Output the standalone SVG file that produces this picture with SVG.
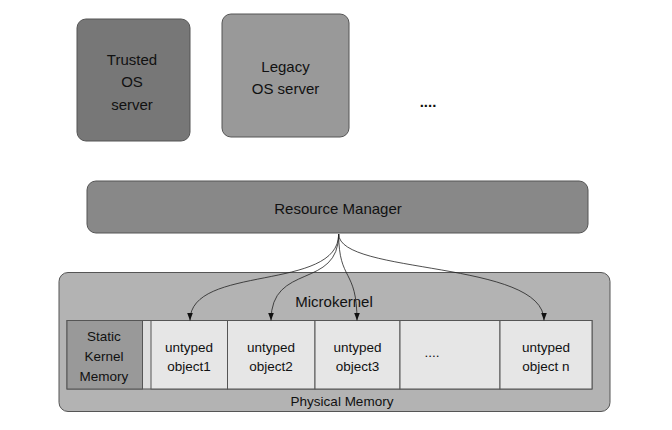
<svg xmlns="http://www.w3.org/2000/svg" width="672" height="430" viewBox="0 0 672 430">
  <defs>
    <marker id="arrow" viewBox="0 0 8 8" refX="8" refY="4" markerWidth="8" markerHeight="8" markerUnits="userSpaceOnUse" orient="auto">
      <path d="M0,1 L8,4 L0,7 Z" fill="#111"/>
    </marker>
  </defs>
  <style>
    text { font-family: "Liberation Sans", Arial, sans-serif; fill: #111; text-anchor: middle; }
    .big { font-size: 15px; }
    .small { font-size: 13.5px; }
    .box { stroke: #555; stroke-width: 1; }
    .cell { fill: #e6e6e6; stroke: #555; stroke-width: 1; }
    .conn { fill: none; stroke: #222; stroke-width: 0.8; marker-end: url(#arrow); }
  </style>
  <rect width="672" height="430" fill="#ffffff"/>

  <g id="trusted-os-server">
    <rect class="box" x="77" y="19" width="113" height="122" rx="9" fill="#777777"/>
    <text class="big" x="132" y="65">Trusted</text>
    <text class="big" x="132" y="87">OS</text>
    <text class="big" x="132" y="110">server</text>
  </g>

  <g id="legacy-os-server">
    <rect class="box" x="222" y="14" width="127" height="123" rx="9" fill="#999999"/>
    <text class="big" x="285.5" y="72">Legacy</text>
    <text class="big" x="285.5" y="94">OS server</text>
  </g>

  <g id="more-servers">
    <text class="big" x="428" y="107" style="font-weight:bold">....</text>
  </g>

  <g id="resource-manager">
    <rect class="box" x="87" y="181" width="501" height="52" rx="9" fill="#888888"/>
    <text class="big" x="338" y="214">Resource Manager</text>
  </g>

  <g id="physical-memory">
    <rect class="box" x="59" y="272.5" width="551" height="139" rx="9" fill="#b3b3b3"/>
    <text class="small" x="342" y="406">Physical Memory</text>
  </g>

  <g id="microkernel">
    <text class="big" x="334" y="307">Microkernel</text>
  </g>

  <g id="memory-row">
    <rect x="67" y="320.5" width="525" height="68.5" fill="#dedede" stroke="#555" stroke-width="1"/>
  </g>

  <g id="static-kernel-memory">
    <rect class="box" x="67" y="320.5" width="75.5" height="68.5" fill="#999999"/>
    <text class="small" x="104" y="341">Static</text>
    <text class="small" x="104" y="361">Kernel</text>
    <text class="small" x="104" y="381">Memory</text>
  </g>

  <g id="untyped-object1">
    <rect class="cell" x="151" y="320.5" width="76.5" height="68.5"/>
    <text class="small" x="189" y="351.5">untyped</text>
    <text class="small" x="189" y="371">object1</text>
  </g>

  <g id="untyped-object2">
    <rect class="cell" x="227.5" y="320.5" width="87.5" height="68.5"/>
    <text class="small" x="271" y="351.5">untyped</text>
    <text class="small" x="271" y="371">object2</text>
  </g>

  <g id="untyped-object3">
    <rect class="cell" x="315" y="320.5" width="85" height="68.5"/>
    <text class="small" x="357.5" y="351.5">untyped</text>
    <text class="small" x="357.5" y="371">object3</text>
  </g>

  <g id="untyped-more">
    <rect class="cell" x="400" y="320.5" width="100" height="68.5"/>
    <text class="small" x="432" y="357">....</text>
  </g>

  <g id="untyped-objectn">
    <rect class="cell" x="500" y="320.5" width="92" height="68.5"/>
    <text class="small" x="546" y="351.5">untyped</text>
    <text class="small" x="546" y="371">object n</text>
  </g>

  <g id="connectors">
    <path class="conn" d="M338.7,234 C338.7,292 190,264 190,320.5"/>
    <path class="conn" d="M338.7,234 C338.7,290 271,262 271,320.5"/>
    <path class="conn" d="M338.7,234 C338.7,282 357,268 357,320.5"/>
    <path class="conn" d="M338.7,234 C338.7,275 544,260 544,320.5"/>
  </g>
</svg>
